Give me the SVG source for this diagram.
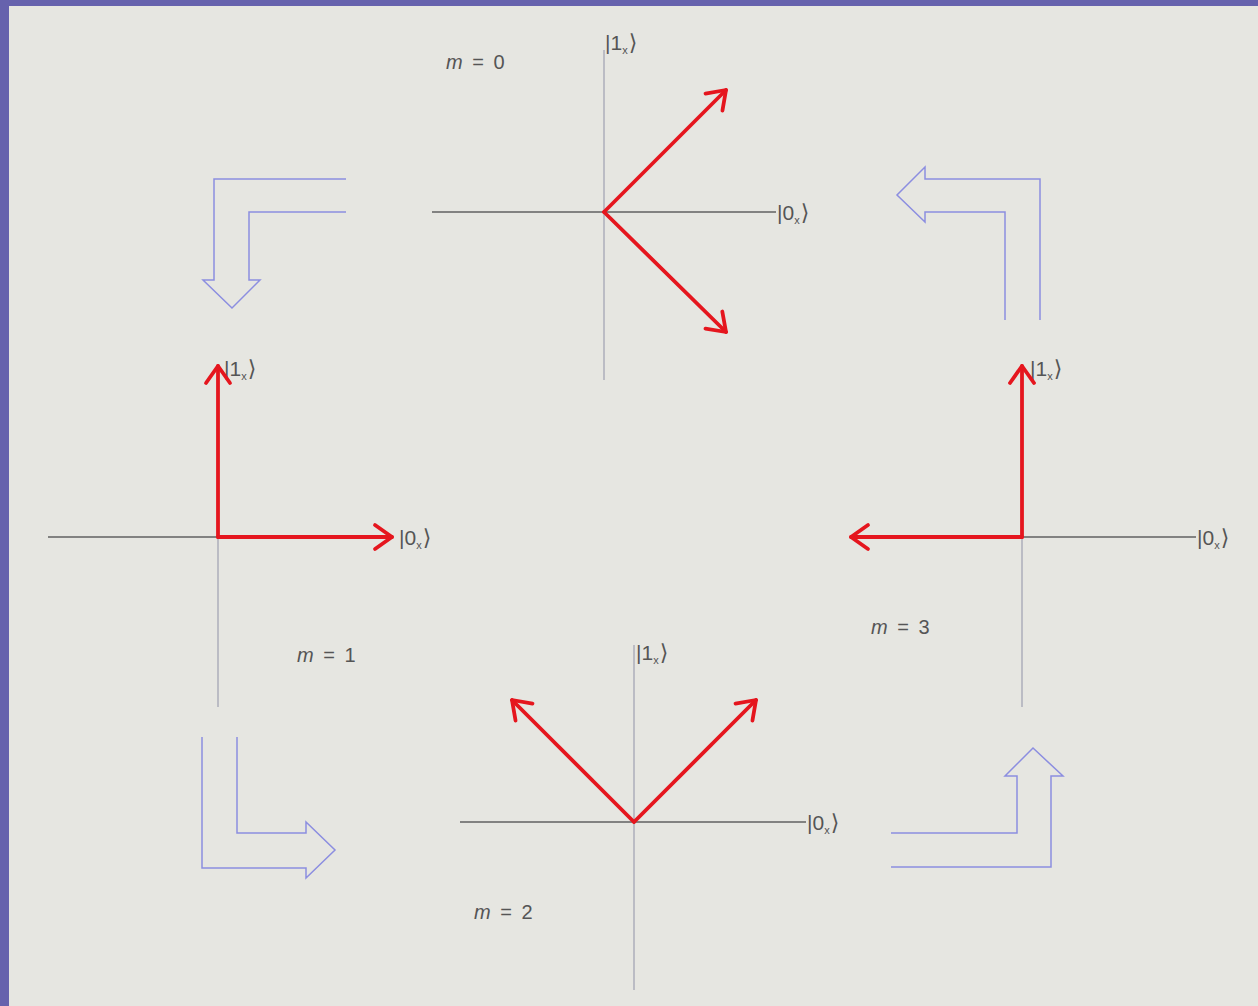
<svg xmlns="http://www.w3.org/2000/svg" width="1258" height="1006" viewBox="0 0 1258 1006">
<defs>
<marker id="rh" markerUnits="userSpaceOnUse" markerWidth="40" markerHeight="40" viewBox="-30 -20 40 40" refX="0" refY="0" orient="auto" overflow="visible">
<path d="M-17,-12 L0,0 L-17,12" fill="none" stroke="#e5161e" stroke-width="3.8" stroke-linecap="round" stroke-linejoin="round"/>
</marker>
</defs>
<style>
.hax{stroke:#606060;stroke-width:1.4;fill:none}
.vax{stroke:#a8aab8;stroke-width:1.4;fill:none}
.vec{stroke:#e5161e;stroke-width:3.8;fill:none;stroke-linecap:round;marker-end:url(#rh)}
.hol{stroke:#8c8ee0;stroke-width:1.5;fill:none;stroke-linejoin:miter}
.lab{font-family:"Liberation Sans","DejaVu Sans",sans-serif;font-size:20px;fill:#555;word-spacing:4px}
.ket{font-family:"Liberation Sans","DejaVu Sans",sans-serif;font-size:21px;fill:#555}
.sub{font-size:11px}
.br{font-family:"DejaVu Sans",sans-serif;font-size:22px}
</style>
<rect x="0" y="0" width="1258" height="1006" fill="#e6e6e1"/>
<rect x="0" y="0" width="9" height="1006" fill="#6662ad"/>
<rect x="0" y="0" width="1258" height="6" fill="#6662ad"/>

<g id="state-m0">
<line class="vax" x1="604" y1="50" x2="604" y2="380"/>
<line class="hax" x1="432" y1="212" x2="776" y2="212"/>
<text class="ket" x="605" y="50">|1<tspan class="sub" dy="4">x</tspan><tspan class="br" dy="-4" dx="1">⟩</tspan></text>
<text class="ket" x="777" y="220">|0<tspan class="sub" dy="4">x</tspan><tspan class="br" dy="-4" dx="1">⟩</tspan></text>
<text class="lab" x="446" y="69"><tspan font-style="italic">m</tspan> = 0</text>
</g>

<g id="state-m1">
<line class="vax" x1="218" y1="365" x2="218" y2="707"/>
<line class="hax" x1="48" y1="537" x2="392" y2="537"/>
<text class="ket" x="224" y="376">|1<tspan class="sub" dy="4">x</tspan><tspan class="br" dy="-4" dx="1">⟩</tspan></text>
<text class="ket" x="399" y="545">|0<tspan class="sub" dy="4">x</tspan><tspan class="br" dy="-4" dx="1">⟩</tspan></text>
<text class="lab" x="297" y="662"><tspan font-style="italic">m</tspan> = 1</text>
</g>

<g id="state-m2">
<line class="vax" x1="634" y1="645" x2="634" y2="990"/>
<line class="hax" x1="460" y1="822" x2="806" y2="822"/>
<text class="ket" x="636" y="660">|1<tspan class="sub" dy="4">x</tspan><tspan class="br" dy="-4" dx="1">⟩</tspan></text>
<text class="ket" x="807" y="830">|0<tspan class="sub" dy="4">x</tspan><tspan class="br" dy="-4" dx="1">⟩</tspan></text>
<text class="lab" x="474" y="919"><tspan font-style="italic">m</tspan> = 2</text>
</g>

<g id="state-m3">
<line class="vax" x1="1022" y1="365" x2="1022" y2="707"/>
<line class="hax" x1="850" y1="537" x2="1196" y2="537"/>
<text class="ket" x="1030" y="376">|1<tspan class="sub" dy="4">x</tspan><tspan class="br" dy="-4" dx="1">⟩</tspan></text>
<text class="ket" x="1197" y="545">|0<tspan class="sub" dy="4">x</tspan><tspan class="br" dy="-4" dx="1">⟩</tspan></text>
<text class="lab" x="871" y="634"><tspan font-style="italic">m</tspan> = 3</text>
</g>

<g id="vectors">
<line class="vec" x1="604" y1="212" x2="726" y2="90"/>
<line class="vec" x1="604" y1="212" x2="726" y2="332"/>
<line class="vec" x1="218" y1="537" x2="218" y2="366"/>
<line class="vec" x1="218" y1="537" x2="392" y2="537"/>
<line class="vec" x1="634" y1="822" x2="512" y2="700"/>
<line class="vec" x1="634" y1="822" x2="756" y2="700"/>
<line class="vec" x1="1022" y1="537" x2="1022" y2="366"/>
<line class="vec" x1="1022" y1="537" x2="851" y2="537"/>
</g>

<g id="connectors">
<path class="hol" d="M346,179 H214 V280 H203 L232,308 L260,280 H249 V212 H346"/>
<path class="hol" d="M1005,320 V212 H925 V222 L897,195 L925,167 V179 H1040 V320"/>
<path class="hol" d="M237,737 V833 H306 V822 L335,850 L306,878 V868 H202 V737"/>
<path class="hol" d="M891,833 H1017 V776 H1005 L1033,748 L1063,776 H1051 V867 H891"/>
</g>
</svg>
